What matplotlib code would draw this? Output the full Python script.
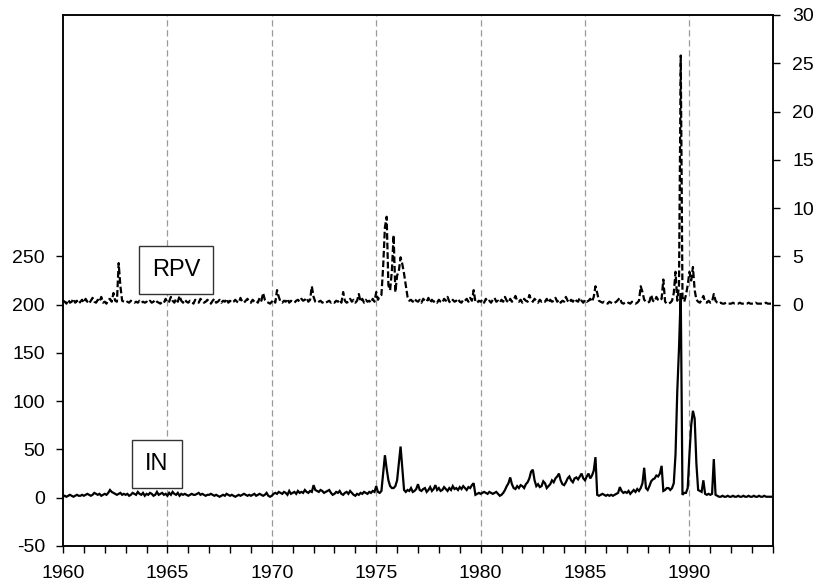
import numpy as np
import matplotlib
matplotlib.use("Agg")
import matplotlib.pyplot as plt
from matplotlib.ticker import MultipleLocator

plt.rcParams["font.family"] = ["Liberation Sans", "DejaVu Sans"]
plt.rcParams["axes.unicode_minus"] = False

start_year = 1960
end_year = 1994

# monthly values, one row per year (1960 .. 1993)
in_values = [
    1, 2, 1, 2, 3, 2, 1, 2, 3, 2, 2, 3,
    2, 3, 4, 3, 2, 3, 5, 4, 3, 4, 2, 3,
    4, 3, 5, 8, 6, 5, 4, 3, 4, 5, 3, 4,
    3, 4, 2, 3, 5, 4, 3, 6, 4, 3, 5, 2,
    4, 3, 5, 4, 2, 3, 6, 3, 4, 5, 3, 4,
    2, 5, 3, 6, 4, 3, 5, 2, 4, 3, 4, 3,
    2, 3, 4, 3, 3, 4, 5, 3, 4, 3, 2, 3,
    3, 4, 3, 2, 3, 2, 1, 2, 3, 2, 4, 3,
    2, 3, 2, 1, 2, 3, 2, 3, 4, 3, 2, 3,
    2, 3, 4, 2, 3, 4, 3, 2, 3, 5, 2, 1,
    2, 4, 5, 4, 6, 5, 4, 6, 5, 3, 7, 4,
    5, 6, 4, 7, 5, 6, 5, 8, 6, 5, 7, 6,
    13, 8, 7, 6, 8, 7, 5, 6, 7, 8, 5, 3,
    4, 6, 5, 7, 4, 3, 5, 6, 4, 7, 5, 3,
    2, 4, 3, 5, 4, 6, 5, 4, 6, 5, 7, 6,
    12, 6, 5, 7, 25, 44, 30, 18, 12, 10, 10, 12,
    18, 35, 53, 30, 8, 6, 8, 7, 10, 6, 7, 9,
    14, 8, 7, 9, 10, 6, 8, 11, 7, 9, 13, 8,
    10, 7, 8, 11, 9, 7, 10, 8, 12, 9, 10, 8,
    11, 9, 12, 10, 8, 11, 10, 13, 15, 3, 4, 5,
    4, 5, 6, 5, 4, 6, 5, 4, 5, 6, 4, 2,
    3, 5, 8, 12, 15, 21, 14, 10, 9, 12, 10, 13,
    12, 10, 14, 16, 20, 27, 29, 18, 12, 14, 11, 12,
    17, 15, 10, 12, 14, 18, 16, 20, 22, 25, 18, 14,
    13, 16, 20, 22, 18, 16, 20, 21, 19, 22, 25, 20,
    18, 22, 25, 20, 23, 28, 42, 3, 2, 3, 4, 3,
    2, 3, 2, 3, 2, 3, 4, 5, 11, 7, 5, 6,
    5, 7, 4, 6, 8, 6, 9, 7, 10, 15, 31, 10,
    8, 12, 17, 19, 20, 23, 22, 25, 33, 7, 8, 10,
    10, 8, 10, 15, 45, 110, 155, 212, 3, 5, 5, 10,
    45, 75, 90, 82, 35, 8, 7, 6, 18, 4, 3, 4,
    3, 4, 40, 3, 2, 1, 1, 2, 1, 1, 2, 1,
    1, 2, 1, 1, 2, 1, 1, 2, 1, 1, 2, 1,
    1, 2, 1, 1, 2, 1, 1, 2, 1, 1, 1, 1,
]

rpv_values = [
    0.4, 0.3, 0.1, 0.5, 0.2, 0.3, 0.6, 0.2, 0.4, 0.1, 0.3, 0.5,
    0.2, 0.6, 0.3, 0.1, 0.4, 0.7, 0.3, 0.2, 0.5, 0.3, 0.8, 0.2,
    0.3, 0.1, 0.5, 0.6, 0.3, 1.2, 0.4, 0.3, 4.3, 1.9, 0.4, 0.3,
    0.2, 0.3, 0.2, 0.4, 0.3, 0.2, 0.3, 0.2, 0.4, 0.2, 0.3, 0.2,
    0.3, 0.2, 0.4, 0.2, 0.3, 0.5, 0.3, 0.2, 0.1, 0.3, 0.2, 0.6,
    0.2, 0.3, 0.8, 0.4, 0.2, 0.6, 0.3, 0.9, 0.4, 0.2, 0.5, 0.3,
    0.2, 0.4, 0.3, 0.1, 0.5, 0.3, 0.2, 0.6, 0.4, 0.2, 0.3, 0.5,
    0.3, 0.1, 0.4, 0.6, 0.2, 0.3, 0.5, 0.2, 0.4, 0.3, 0.6, 0.2,
    0.4, 0.2, 0.3, 0.5, 0.3, 0.2, 0.7, 0.3, 0.2, 0.4, 0.6, 0.3,
    0.2, 0.5, 0.3, 0.4, 0.2, 0.7, 0.4, 1.2, 0.5, 0.3, 0.2, 0.1,
    0.3, 0.5, 0.2, 1.5, 0.8, 0.3, 0.2, 0.4, 0.3, 0.6, 0.2, 0.4,
    0.3, 0.2, 0.4, 0.5, 0.3, 0.6, 0.4, 0.5, 0.7, 0.3, 0.5, 1.9,
    0.8, 0.3, 0.2, 0.3, 0.4, 0.2, 0.3, 0.2, 0.3, 0.4, 0.2, 0.3,
    0.2, 0.4, 0.3, 0.5, 0.2, 1.3, 0.4, 0.2, 0.3, 0.6, 0.3, 0.5,
    0.2, 0.4, 1.1, 0.3, 0.6, 0.2, 0.5, 0.3, 0.4, 0.2, 0.6, 0.3,
    1.3, 0.5, 0.9, 1.0, 4.0, 8.0, 9.1, 2.0, 1.5, 3.5, 7.2, 1.3,
    3.0, 3.5, 4.9, 4.2, 3.2, 2.0, 0.8, 0.4, 0.5, 0.3, 0.6, 0.4,
    0.3, 0.5, 0.2, 0.6, 0.4, 0.3, 0.7, 0.2, 0.5, 0.3, 0.4, 0.2,
    0.5, 0.3, 0.2, 0.6, 0.4, 0.8, 0.3, 0.2, 0.5, 0.3, 0.4, 0.6,
    0.3, 0.2, 0.5, 0.4, 0.6, 0.3, 0.7, 0.4, 1.5, 0.3, 0.2, 0.4,
    0.3, 0.5, 0.2, 0.6, 0.3, 0.4, 0.2, 0.5, 0.7, 0.3, 0.4, 0.2,
    0.5, 0.3, 0.8, 0.4, 0.2, 0.6, 0.3, 0.5, 0.9, 0.4, 0.3, 0.5,
    0.2, 0.6, 0.4, 0.3, 1.0, 0.5, 0.3, 0.6, 0.4, 0.2, 0.5, 0.3,
    0.4, 0.3, 0.6, 0.2, 0.5, 0.3, 0.4, 0.7, 0.3, 0.5, 0.2, 0.4,
    0.3, 0.8, 0.4, 0.2, 0.5, 0.3, 0.6, 0.4, 0.3, 0.7, 0.4, 0.2,
    0.5, 0.3, 0.4, 0.6, 0.3, 0.8, 1.9, 1.2, 0.4, 0.3, 0.2, 0.3,
    0.2, 0.1, 0.3, 0.2, 0.1, 0.2, 0.3, 0.5, 0.7, 0.2, 0.1, 0.2,
    0.1, 0.2, 0.1, 0.3, 0.2, 0.1, 0.2, 0.4, 1.9, 1.3, 0.5, 0.3,
    0.2, 0.3, 1.0, 0.4, 0.3, 0.8, 0.5, 0.4, 0.6, 2.6, 0.3, 0.1,
    0.1, 0.2, 0.4, 1.2, 3.4, 0.4, 2.0, 25.8, 0.8, 0.3, 1.0, 2.0,
    3.4, 2.5, 3.9, 1.5, 0.5, 0.3, 0.2, 0.5, 0.9, 0.3, 0.2, 0.4,
    0.2, 0.3, 1.1, 0.4, 0.2, 0.1, 0.2, 0.1, 0.1, 0.2, 0.1, 0.1,
    0.1, 0.2, 0.1, 0.1, 0.1, 0.2, 0.1, 0.1, 0.1, 0.1, 0.2, 0.1,
    0.1, 0.1, 0.2, 0.1, 0.1, 0.1, 0.1, 0.1, 0.2, 0.1, 0.1, 0.1,
]

left_ticks = [-50, 0, 50, 100, 150, 200, 250]
right_ticks = [0, 5, 10, 15, 20, 25, 30]
year_ticks = [1960, 1965, 1970, 1975, 1980, 1985, 1990]
grid_years = [1965, 1970, 1975, 1980, 1985, 1990]

months = start_year + np.arange(len(in_values)) / 12.0

fig = plt.figure(figsize=(8.19, 5.85), dpi=100)
ax = fig.add_axes([0.0769, 0.0667, 0.8669, 0.9077])
ax2 = ax.twinx()

for g in grid_years:
    ax.axvline(g, color="#999999", lw=0.9, ls=(0, (5, 3)), zorder=0)

ax.plot(months, in_values, color="black", lw=1.6, solid_joinstyle="miter")
ax2.plot(months, rpv_values, color="black", lw=1.6, ls=(0, (3, 1.3)))

ax.set_xlim(start_year, end_year)
ax.set_ylim(-50, 500)
ax2.set_ylim(-25, 30)

ax.set_xticks(year_ticks)
ax.xaxis.set_minor_locator(MultipleLocator(1))
ax.set_yticks(left_ticks)
ax2.set_yticks(right_ticks)

for a in (ax, ax2):
    for s in a.spines.values():
        s.set_linewidth(1.1)
ax.tick_params(axis="both", which="both", direction="out", length=5, width=1,
               labelsize=14)
ax.tick_params(axis="y", pad=8)
ax.tick_params(axis="x", which="major", pad=9)
ax2.tick_params(axis="y", direction="out", length=5, width=1, labelsize=14, pad=9)

box = dict(boxstyle="square,pad=0.55", fc="white", ec="#333333", lw=1)
ax.text(1965.42, 236, "RPV", fontsize=17, ha="center", va="center", bbox=box)
ax.text(1964.5, 35, "IN", fontsize=17, ha="center", va="center", bbox=box)

fig.savefig("out.png", dpi=100)
